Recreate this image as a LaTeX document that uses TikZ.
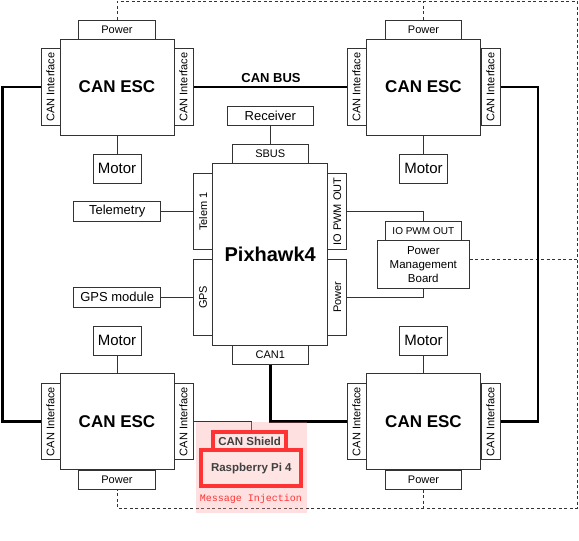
\documentclass[tikz,border=0pt]{standalone}
\usepackage{fontspec}
\setmainfont{Liberation Sans}
\setmonofont{Liberation Mono}
\usepackage{graphicx}
\definecolor{injred}{HTML}{FF3333}
\definecolor{injpink}{HTML}{FF9A9A}
\definecolor{injfill}{HTML}{FFE4E4}
\begin{document}
\begin{tikzpicture}[
              x=1pt, y=-1pt,
              box/.style={draw=black!80, line width=1pt, fill=white, inner sep=1pt, align=center},
              esc/.style={box, minimum width=114pt, minimum height=96pt, font=\fontsize{17}{20}\selectfont\bfseries},
              tab/.style={box, minimum width=76.5pt, minimum height=19pt, font=\fontsize{11}{13}\selectfont},
              port/.style={box, minimum width=19pt, minimum height=76.5pt, font=\fontsize{11}{13}\selectfont},
              part/.style={box, minimum width=86.5pt, minimum height=19.5pt, font=\fontsize{13}{15}\selectfont},
              motor/.style={box, minimum width=48pt, minimum height=29pt, font=\fontsize{15}{17}\selectfont},
              bus/.style={line width=2.6pt},
              wire/.style={draw=black!80, line width=1pt},
              power/.style={draw=black!80, line width=0.9pt, dash pattern=on 3pt off 2.5pt},
              inject/.style={draw=injred, line width=4pt, fill=injfill, text=black!75, font=\fontsize{11.5}{13}\selectfont\bfseries}
            ]
            \useasboundingbox (0,0) rectangle (579,541);

            % ESC: top left
            \node[esc] (escTL) at (117,87) {CAN ESC};
            \node[tab] (pwrTL) at (117,29.5) {Power};
            \node[port] (ciTLa) at (50.5,87) {\rotatebox{90}{CAN Interface}};
            \node[port] (ciTLb) at (183.5,87) {\rotatebox{90}{CAN Interface}};
            \node[motor] (motTL) at (117,168.5) {Motor};

            % ESC: top right
            \node[esc] (escTR) at (423.5,87) {CAN ESC};
            \node[tab] (pwrTR) at (423.5,29.5) {Power};
            \node[port] (ciTRa) at (356.5,87) {\rotatebox{90}{CAN Interface}};
            \node[port] (ciTRb) at (490.5,87) {\rotatebox{90}{CAN Interface}};
            \node[motor] (motTR) at (423.5,168.5) {Motor};

            % ESC: bottom left
            \node[esc] (escBL) at (117,421.5) {CAN ESC};
            \node[tab] (pwrBL) at (117,479.5) {Power};
            \node[port] (ciBLa) at (50.5,421.5) {\rotatebox{90}{CAN Interface}};
            \node[port] (ciBLb) at (183.5,421.5) {\rotatebox{90}{CAN Interface}};
            \node[motor] (motBL) at (117,340.5) {Motor};

            % ESC: bottom right
            \node[esc] (escBR) at (423.5,421.5) {CAN ESC};
            \node[tab] (pwrBR) at (423.5,479.5) {Power};
            \node[port] (ciBRa) at (356.5,421.5) {\rotatebox{90}{CAN Interface}};
            \node[port] (ciBRb) at (490.5,421.5) {\rotatebox{90}{CAN Interface}};
            \node[motor] (motBR) at (423.5,340.5) {Motor};

            % Flight controller
            \node[box, minimum width=115pt, minimum height=181.5pt, font=\fontsize{20}{24}\selectfont\bfseries] (px4) at (270.2,254.5) {Pixhawk4};
            \node[tab] (sbus) at (270.3,154) {SBUS};
            \node[tab] (can1) at (270.3,354.8) {CAN1};
            \node[port] (telem) at (203.2,211.5) {\rotatebox{90}{Telem 1}};
            \node[port] (gps) at (203.2,297.3) {\rotatebox{90}{GPS}};
            \node[port] (pwmOut) at (337.3,211.5) {\rotatebox{90}{IO PWM OUT}};
            \node[port] (pxPwr) at (337.3,297.3) {\rotatebox{90}{Power}};

            % Peripherals
            \node[part] (rcv) at (270.3,116) {Receiver};
            \node[part] (telemetry) at (117.2,211.5) {Telemetry};
            \node[part] (gpsMod) at (117.2,297.3) {GPS module};

            % Power management board
            \node[box, minimum width=91.5pt, minimum height=48pt, font=\fontsize{11.5}{14}\selectfont] (pmb) at (423.3,264.3) {Power\\Management\\Board};
            \node[tab, font=\fontsize{10}{12}\selectfont] (pmbIO) at (423.3,230.8) {IO PWM OUT};

            % ESC to motor
            \draw[wire] (escTL.south) -- (motTL.north);
            \draw[wire] (escTR.south) -- (motTR.north);
            \draw[wire] (escBL.north) -- (motBL.south);
            \draw[wire] (escBR.north) -- (motBR.south);

            % Peripheral wiring
            \draw[wire] (rcv.south) -- (sbus.north);
            \draw[wire] (telemetry.east) -- (telem.west);
            \draw[wire] (gpsMod.east) -- (gps.west);
            \draw[wire] (pwmOut.east) -| (pmbIO.north);
            \draw[wire] (pxPwr.east) -| (pmb.south);

            % Power (dashed)
            \coordinate (dTL) at (117,1);
            \coordinate (dTR) at (577,1);
            \coordinate (dBR) at (577,508);
            \coordinate (dBL) at (117,508);
            \draw[power] (pwrTL.north) -- (dTL) -- (dTR) -- (dBR) -- (dBL) -- (pwrBL.south);
            \draw[power] (pwrTR.north) -- (pwrTR.north |- dTL);
            \draw[power] (pwrBR.south) -- (pwrBR.south |- dBL);
            \draw[power] ([yshift=5pt]pmb.east) -- ([yshift=5pt]pmb.east -| dTR);

            % CAN bus
            \coordinate (busL) at (2.5,0);
            \coordinate (busR) at (538,0);
            \draw[bus] (ciTLb.east) -- (ciTRa.west);
            \node[font=\fontsize{13}{15}\selectfont\bfseries] (busLabel) at (271,78) {CAN BUS};
            \draw[bus] (ciTLa.west) -- (ciTLa.west -| busL) -- (ciBLa.west -| busL) -- (ciBLa.west);
            \draw[bus] (ciTRb.east) -- (ciTRb.east -| busR) -- (ciBRb.east -| busR) -- (ciBRb.east);
            \draw[bus] (can1.south) |- (ciBRa.west);

            % Message injection
            \coordinate (shieldTop) at (251,430);
            \draw[wire] (ciBLb.east) -| (shieldTop);
            \fill[injpink, fill opacity=0.3] (196,421.7) rectangle (307.3,512.7);
            \node[inject, minimum width=73pt, minimum height=18pt] (shield) at (249.6,441) {CAN Shield};
            \node[inject, minimum width=100pt, minimum height=36pt] (rpi) at (251.3,468.2) {Raspberry Pi 4};
            \node[text=injred, font=\fontsize{10}{12}\selectfont\ttfamily] (injLabel) at (251,498.5) {Message Injection};

            \end{tikzpicture}
\end{document}
